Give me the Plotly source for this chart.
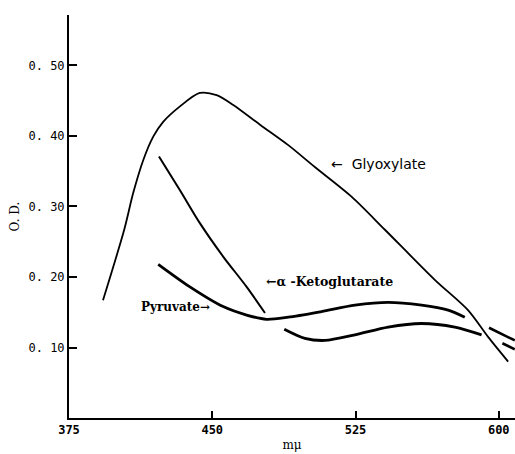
import plotly.graph_objects as go

# Data (wavelength in mμ, O.D.)
glyox_x = [392.8, 403.9, 408.6, 413.9, 419.1, 424.3, 433.1, 443.5, 452.3, 461.0, 475.0, 489.8, 503.7, 522.9, 540.4, 566.5, 583.9, 594.4, 604.9]
glyox_y = [0.167, 0.267, 0.319, 0.366, 0.399, 0.420, 0.442, 0.461, 0.458, 0.444, 0.416, 0.387, 0.356, 0.314, 0.267, 0.196, 0.153, 0.115, 0.080]

keto_x = [422.1, 433.1, 443.6, 455.7, 468.0, 477.6]
keto_y = [0.371, 0.323, 0.276, 0.229, 0.186, 0.149]

pyr_x = [421.7, 438.3, 455.7, 468.0, 478.4, 489.8, 507.2, 524.7, 542.1, 559.6, 573.5, 582.2]
pyr_y = [0.218, 0.186, 0.158, 0.146, 0.140, 0.143, 0.151, 0.160, 0.164, 0.160, 0.153, 0.143]
pyr_tail_x = [594.9, 608.4]
pyr_tail_y = [0.128, 0.110]

low_x = [487.7, 498.5, 509.0, 524.7, 542.1, 559.6, 577.0, 591.0]
low_y = [0.126, 0.113, 0.110, 0.118, 0.129, 0.134, 0.129, 0.118]
low_tail_x = [601.9, 608.4]
low_tail_y = [0.106, 0.0975]

x_ticks = [375, 450, 525, 600]
x_ticklabels = ["375", "450", "525", "600"]
y_ticks = [0.10, 0.20, 0.30, 0.40, 0.50]
y_ticklabels = ["0. 10", "0. 20", "0. 30", "0. 40", "0. 50"]

fig = go.Figure()

def add(x, y, w, name):
    fig.add_trace(go.Scatter(x=x, y=y, mode="lines", name=name,
                             line=dict(color="black", width=w, shape="spline", smoothing=0.8),
                             showlegend=False, hoverinfo="skip"))

add(glyox_x, glyox_y, 1.8, "Glyoxylate")
add(keto_x, keto_y, 2.0, "α-Ketoglutarate")
add(pyr_x, pyr_y, 2.8, "Pyruvate")
add(pyr_tail_x, pyr_tail_y, 2.6, "Pyruvate")
add(low_x, low_y, 2.8, "Lower curve")
add(low_tail_x, low_tail_y, 2.6, "Lower curve")

label_font = dict(family="DejaVu Serif", size=12, color="black", weight="bold")

fig.add_annotation(x=511, y=0.360, xref="x", yref="y", text="←  Glyoxylate",
                   showarrow=False, xanchor="left", yanchor="middle",
                   font=dict(family="DejaVu Sans", size=14, color="black"))
fig.add_annotation(x=450, y=0.158, xref="x", yref="y", text="Pyruvate→",
                   showarrow=False, xanchor="right", yanchor="middle", font=label_font)
fig.add_annotation(x=477, y=0.193, xref="x", yref="y", text="←α -Ketoglutarate",
                   showarrow=False, xanchor="left", yanchor="middle",
                   font=dict(family="DejaVu Serif", size=12.5, color="black", weight="bold"))

fig.update_layout(
    width=515, height=454,
    margin=dict(l=69, r=0, t=15, b=36),
    paper_bgcolor="white", plot_bgcolor="white",
    xaxis=dict(range=[375, 608.5], tickvals=x_ticks, ticktext=x_ticklabels,
               showgrid=False, zeroline=False, showline=True, linecolor="black", linewidth=2,
               ticks="inside", ticklen=7, tickwidth=1.5, tickcolor="black",
               tickfont=dict(family="DejaVu Sans Mono", size=12, color="black", weight="bold"),
               title=dict(text="mμ", font=dict(family="DejaVu Serif", size=12, color="black"),
                          standoff=4)),
    yaxis=dict(range=[0, 0.5716], tickvals=y_ticks, ticktext=y_ticklabels,
               showgrid=False, zeroline=False, showline=True, linecolor="black", linewidth=2,
               ticks="inside", ticklen=8, tickwidth=2, tickcolor="black", ticklabelstandoff=0,
               tickfont=dict(family="DejaVu Sans Mono", size=12, color="black"),
               title=dict(text="O. D.", font=dict(family="DejaVu Serif", size=12, color="black"),
                          standoff=6)),
)

fig.write_html("out.html")
